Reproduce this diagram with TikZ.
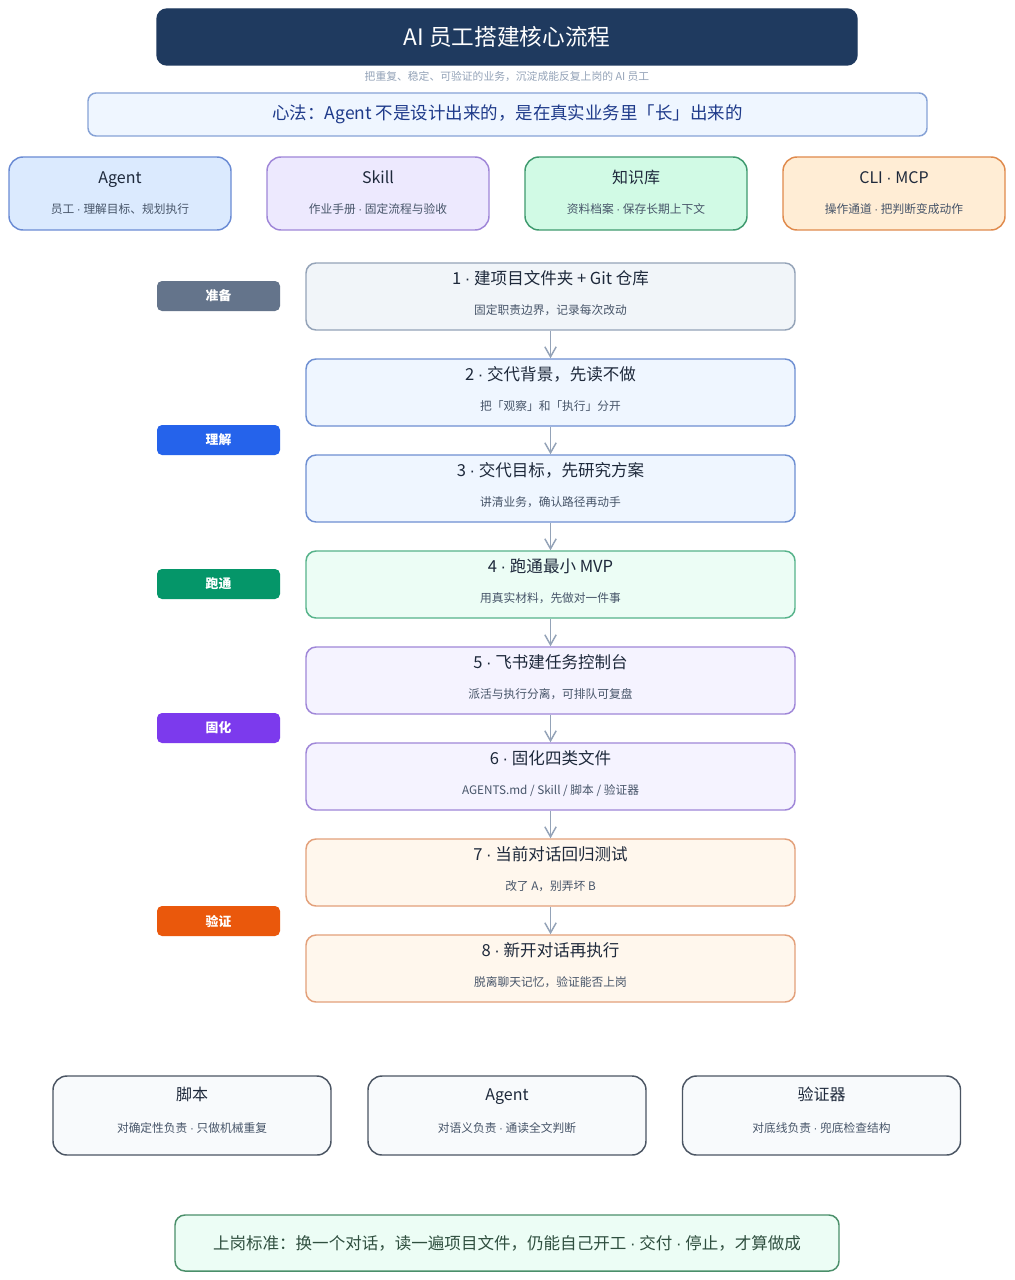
\documentclass[tikz,border=0pt]{standalone}
\usepackage{fontspec}
\setmainfont{Noto Sans CJK SC}
\newfontfamily\dotfont{Liberation Sans}
\newcommand\mdot{{\dotfont ·}}
\usetikzlibrary{arrows.meta,calc}
\definecolor{navy}{HTML}{1F3A5F}
\definecolor{txtdark}{HTML}{1E293B}
\definecolor{txtgray}{HTML}{475569}
\definecolor{txtlight}{HTML}{94A3B8}
\definecolor{xfFill}{HTML}{EFF6FF}\definecolor{xfLine}{HTML}{86A2D6}\definecolor{xfText}{HTML}{1E3A8A}
\definecolor{agFill}{HTML}{DBEAFE}\definecolor{agLine}{HTML}{6A8BD4}
\definecolor{skFill}{HTML}{EDE9FE}\definecolor{skLine}{HTML}{9F86D8}
\definecolor{kbFill}{HTML}{D1FAE5}\definecolor{kbLine}{HTML}{3E9A6E}
\definecolor{clFill}{HTML}{FFEDD5}\definecolor{clLine}{HTML}{E08A4C}
\definecolor{s1Fill}{HTML}{F1F5F9}\definecolor{s1Line}{HTML}{94A3B8}
\definecolor{s2Fill}{HTML}{EFF6FF}\definecolor{s2Line}{HTML}{6E8FD2}
\definecolor{s4Fill}{HTML}{ECFDF5}\definecolor{s4Line}{HTML}{56B38A}
\definecolor{s5Fill}{HTML}{F5F3FF}\definecolor{s5Line}{HTML}{9F86D8}
\definecolor{s7Fill}{HTML}{FFF7ED}\definecolor{s7Line}{HTML}{E3A07A}
\definecolor{btFill}{HTML}{F8FAFC}\definecolor{btLine}{HTML}{4B5563}
\definecolor{fnFill}{HTML}{ECFDF5}\definecolor{fnLine}{HTML}{4A8F6A}\definecolor{fnText}{HTML}{2F4F3F}
\definecolor{stA}{HTML}{64748B}\definecolor{stB}{HTML}{2563EB}\definecolor{stC}{HTML}{059669}
\definecolor{stD}{HTML}{7C3AED}\definecolor{stE}{HTML}{EA580C}
\definecolor{arrowc}{HTML}{94A3B8}
\tikzset{
  box/.style={draw, line width=1.1pt, inner sep=0pt},
  catbox/.style={box, rounded corners=10.5pt, minimum width=166.5pt, minimum height=54.75pt},
  stepbox/.style={box, rounded corners=7.5pt, minimum width=366.75pt, minimum height=50.25pt},
  toolbox/.style={box, draw=btLine, fill=btFill, rounded corners=10.5pt, minimum width=208.5pt, minimum height=59.25pt},
  stagebox/.style={rounded corners=3.75pt, minimum width=92.25pt, minimum height=22.5pt, inner sep=0pt, text=white, font=\fontsize{9.6}{12}\selectfont\bfseries},
  ttl/.style={text=txtdark, font=\fontsize{12}{14}\selectfont, inner sep=0pt, text height=0.86em, text depth=0.14em},
  sub/.style={text=txtgray, font=\fontsize{8.8}{10}\selectfont, inner sep=0pt, text height=0.86em, text depth=0.14em},
  flow/.style={draw=arrowc, line width=1.1pt, -{Straight Barb[length=7.5pt, width=8.5pt]}}
}
\begin{document}
\begin{tikzpicture}[x=0.75pt, y=-0.75pt]
\useasboundingbox[fill=white] (0,0) rectangle (1014,1280);
% title
\node[box, draw=navy, fill=navy, rounded corners=7.5pt, minimum width=525pt, minimum height=42pt] (title) at (507,37) {};
\node[text=white, font=\fontsize{17}{20}\selectfont, inner sep=0pt] (titletext) at (title.center) {AI 员工搭建核心流程};
\node[text=txtlight, font=\fontsize{8.1}{9}\selectfont, inner sep=0pt] (subtitle) at (507,77) {把重复、稳定、可验证的业务，沉淀成能反复上岗的 AI 员工};
% principle
\node[box, draw=xfLine, fill=xfFill, rounded corners=6pt, minimum width=629.25pt, minimum height=32.25pt] (xinfa) at (507.5,114.5) {};
\node[text=xfText, font=\fontsize{13.1}{15}\selectfont, inner sep=0pt] (xinfatext) at (xinfa.center) {心法：Agent 不是设计出来的，是在真实业务里「长」出来的};
% four categories
\node[catbox, draw=agLine, fill=agFill] (agent) at (120,193.5) {};
\node[catbox, draw=skLine, fill=skFill] (skill) at (378,193.5) {};
\node[catbox, draw=kbLine, fill=kbFill] (kb) at (636,193.5) {};
\node[catbox, draw=clLine, fill=clFill] (cli) at (894,193.5) {};
\foreach \n/\t/\s in {agent/Agent/员工 \mdot{} 理解目标、规划执行, skill/Skill/作业手册 \mdot{} 固定流程与验收, kb/知识库/资料档案 \mdot{} 保存长期上下文, cli/CLI \mdot{} MCP/操作通道 \mdot{} 把判断变成动作}{
  \node[ttl] (\n-t) at ($(\n.north)+(0,22)$) {\t};
  \node[sub] (\n-s) at ($(\n.north)+(0,52)$) {\s};
}
% stage labels
\node[stagebox, fill=stA] (stg1) at (218.5,296) {准备};
\node[stagebox, fill=stB] (stg2) at (218.5,440) {理解};
\node[stagebox, fill=stC] (stg3) at (218.5,584) {跑通};
\node[stagebox, fill=stD] (stg4) at (218.5,728) {固化};
\node[stagebox, fill=stE] (stg5) at (218.5,921) {验证};
% steps
\node[stepbox, draw=s1Line, fill=s1Fill] (s1) at (550.5,296.5) {};
\node[stepbox, draw=s2Line, fill=s2Fill] (s2) at (550.5,392.5) {};
\node[stepbox, draw=s2Line, fill=s2Fill] (s3) at (550.5,488.5) {};
\node[stepbox, draw=s4Line, fill=s4Fill] (s4) at (550.5,584.5) {};
\node[stepbox, draw=s5Line, fill=s5Fill] (s5) at (550.5,680.5) {};
\node[stepbox, draw=s5Line, fill=s5Fill] (s6) at (550.5,776.5) {};
\node[stepbox, draw=s7Line, fill=s7Fill] (s7) at (550.5,872.5) {};
\node[stepbox, draw=s7Line, fill=s7Fill] (s8) at (550.5,968.5) {};
\foreach \n/\t/\s in {s1/1 \mdot{} 建项目文件夹 + Git 仓库/固定职责边界，记录每次改动,
  s2/2 \mdot{} 交代背景，先读不做/把「观察」和「执行」分开,
  s3/3 \mdot{} 交代目标，先研究方案/讲清业务，确认路径再动手,
  s4/4 \mdot{} 跑通最小 MVP/用真实材料，先做对一件事,
  s5/5 \mdot{} 飞书建任务控制台/派活与执行分离，可排队可复盘,
  s6/6 \mdot{} 固化四类文件/{AGENTS.md / Skill / 脚本 / 验证器},
  s7/7 \mdot{} 当前对话回归测试/改了 A，别弄坏 B,
  s8/8 \mdot{} 新开对话再执行/脱离聊天记忆，验证能否上岗}{
  \node[ttl, font=\fontsize{12.4}{14}\selectfont] (\n-t) at ($(\n.north)+(0,17)$) {\t};
  \node[sub] (\n-s) at ($(\n.north)+(0,47.5)$) {\s};
}
\foreach \a/\b in {s1/s2, s2/s3, s3/s4, s4/s5, s5/s6, s6/s7, s7/s8}{
  \draw[flow] (\a.south) -- (\b.north);
}
% tools
\node[toolbox] (script) at (192,1115.5) {};
\node[toolbox] (agent2) at (507,1115.5) {};
\node[toolbox] (verifier) at (821.5,1115.5) {};
\foreach \n/\t/\s in {script/脚本/对确定性负责 \mdot{} 只做机械重复, agent2/Agent/对语义负责 \mdot{} 通读全文判断, verifier/验证器/对底线负责 \mdot{} 兜底检查结构}{
  \node[ttl] (\n-t) at ($(\n.north)+(0,20)$) {\t};
  \node[sub] (\n-s) at ($(\n.north)+(0,52)$) {\s};
}
% final standard
\node[box, draw=fnLine, fill=fnFill, rounded corners=7.5pt, minimum width=498pt, minimum height=42pt] (final) at (507,1243) {};
\node[text=fnText, font=\fontsize{12.4}{14}\selectfont, inner sep=0pt] (finaltext) at (final.center) {上岗标准：换一个对话，读一遍项目文件，仍能自己开工 \mdot{} 交付 \mdot{} 停止，才算做成};
\end{tikzpicture}
\end{document}
